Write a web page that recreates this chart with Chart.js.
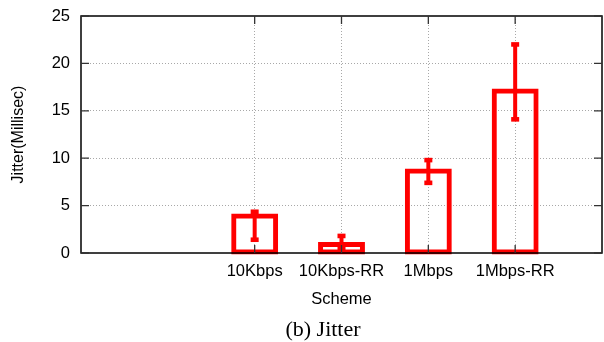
<!DOCTYPE html>
<html><head><meta charset="utf-8">
<script src="https://cdn.jsdelivr.net/npm/chart.js@4"></script>
<style>
html,body{margin:0;padding:0;background:#fff}
#wrap{position:relative;width:604px;height:342px;overflow:hidden}
#c{position:absolute;left:0;top:0}
#cap{position:absolute;top:318px;left:0;width:646px;text-align:center;font-family:"Liberation Serif","DejaVu Serif",serif;font-size:22px;line-height:22px;color:#000}
</style></head>
<body>
<div id="wrap"><canvas id="c" width="604" height="342"></canvas><div id="cap">(b) Jitter</div></div>
<script>
const categories = ['10Kbps', '10Kbps-RR', '1Mbps', '1Mbps-RR'];
const jitter = [3.95, 0.95, 8.7, 17.15];
const errLow = [1.4, 0.5, 7.4, 14.1];
const errHigh = [4.35, 1.8, 9.8, 22.0];
const yTicks = [0, 5, 10, 15, 20, 25];
const padBefore = 2, padAfter = 1;

const labels = [...Array(padBefore).fill(''), ...categories, ...Array(padAfter).fill('')];
const barData = [...Array(padBefore).fill(null), ...jitter, ...Array(padAfter).fill(null)];
const isCat = i => i >= padBefore && i < padBefore + categories.length;
const gridGray = '#a8a8a8';

const framePlugin = {
  id: 'frame',
  afterDatasetsDraw(chart) {
    const {ctx, chartArea: a, scales: {x, y}} = chart;
    ctx.save();
    ctx.strokeStyle = '#ff0000';
    ctx.fillStyle = '#ff0000';
    categories.forEach((c, i) => {
      const px = x.getPixelForValue(i + padBefore);
      const yl = y.getPixelForValue(errLow[i]);
      const yh = y.getPixelForValue(errHigh[i]);
      ctx.lineWidth = 4;
      ctx.beginPath(); ctx.moveTo(px, yl); ctx.lineTo(px, yh); ctx.stroke();
      ctx.fillRect(px - 4, yh - 2.3, 8, 4.6);
      ctx.fillRect(px - 4, yl - 2.3, 8, 4.6);
    });
    ctx.strokeStyle = '#000';
    ctx.lineWidth = 1.5;
    ctx.strokeRect(a.left, a.top, a.right - a.left, a.bottom - a.top);
    ctx.strokeStyle = '#333';
    ctx.lineWidth = 1.3;
    const tl = 8;
    yTicks.forEach(v => {
      const py = y.getPixelForValue(v);
      ctx.beginPath();
      ctx.moveTo(a.left, py); ctx.lineTo(a.left + tl, py);
      ctx.moveTo(a.right, py); ctx.lineTo(a.right - tl, py);
      ctx.stroke();
    });
    categories.forEach((c, i) => {
      const px = x.getPixelForValue(i + padBefore);
      ctx.beginPath();
      ctx.moveTo(px, a.top); ctx.lineTo(px, a.top + tl);
      ctx.moveTo(px, a.bottom); ctx.lineTo(px, a.bottom - tl);
      ctx.stroke();
    });
    ctx.restore();
  }
};

new Chart(document.getElementById('c'), {
  type: 'bar',
  data: {
    labels: labels,
    datasets: [{
      data: barData,
      borderColor: '#ff0000',
      backgroundColor: 'rgba(0,0,0,0)',
      borderWidth: 1,
      inflateAmount: 2,
      borderSkipped: false,
      barPercentage: 43 / 87,
      categoryPercentage: 1,
      clip: false
    }]
  },
  options: {
    responsive: false,
    animation: false,
    layout: {padding: {top: 16, right: 2, left: 0, bottom: 33}},
    plugins: {legend: {display: false}, tooltip: {enabled: false}, title: {display: false}},
    scales: {
      x: {
        type: 'category',
        offset: false,
        grid: {
          offset: false,
          drawTicks: false,
          color: ctx => isCat(ctx.index) ? gridGray : 'rgba(0,0,0,0)',
          lineWidth: 1
        },
        border: {display: false, dash: [1, 2]},
        ticks: {
          autoSkip: false, maxRotation: 0, minRotation: 0,
          color: '#000', padding: 9,
          font: {family: '"Liberation Sans", Arial, sans-serif', size: 16.5}
        },
        title: {
          display: true, text: 'Scheme', color: '#000',
          padding: {top: 2, bottom: 0},
          font: {family: '"Liberation Sans", Arial, sans-serif', size: 16.5}
        },
        afterFit: s => { s.height = 56; s.paddingLeft = 0; s.paddingRight = 0; }
      },
      y: {
        min: 0, max: 25,
        afterBuildTicks: s => { s.ticks = yTicks.map(v => ({value: v})); },
        grid: {
          drawTicks: false,
          color: ctx => (ctx.tick && (ctx.tick.value === 0 || ctx.tick.value === 25)) ? 'rgba(0,0,0,0)' : gridGray,
          lineWidth: 1
        },
        border: {display: false, dash: [1, 2]},
        ticks: {
          color: '#000', padding: 11,
          font: {family: '"Liberation Sans", Arial, sans-serif', size: 16.5}
        },
        title: {
          display: true, text: 'Jitter(Millisec)', color: '#000',
          padding: {top: 9, bottom: 0},
          font: {family: '"Liberation Sans", Arial, sans-serif', size: 16}
        },
        afterFit: s => { s.width = 81; s.paddingTop = 0; s.paddingBottom = 0; }
      }
    }
  },
  plugins: [framePlugin]
});
</script>
</body></html>
